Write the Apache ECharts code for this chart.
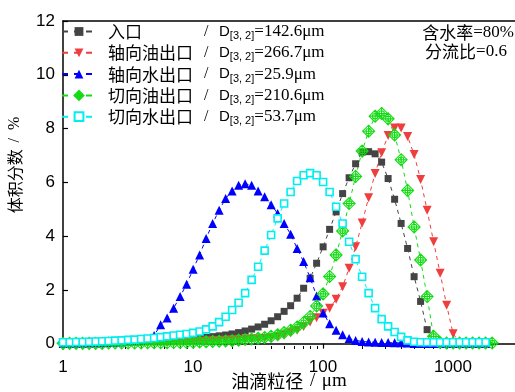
<!DOCTYPE html>
<html><head><meta charset="utf-8">
<script src="https://cdn.jsdelivr.net/npm/echarts@6/dist/echarts.min.js"></script>
<style>html,body{margin:0;padding:0;background:#fff}#c{width:515px;height:392px}</style>
</head><body><div id="c"></div>
<script>
// particle size classes (µm)
const sizes = [1.002,1.125,1.262,1.416,1.589,1.783,2.000,2.244,2.518,2.825,3.170,3.557,3.991,4.477,5.024,5.637,6.325,7.096,7.962,8.934,10.024,11.247,12.619,14.159,15.887,17.825,20.000,22.440,25.179,28.251,31.698,35.566,39.905,44.774,50.238,56.368,63.246,70.963,79.621,89.337,100.237,112.468,126.191,141.589,158.866,178.250,200.000,224.404,251.785,282.508,316.979,355.656,399.052,447.744,502.377,563.677,632.456,709.627,796.214,893.367,1002.374,1124.683,1261.915,1415.892,1588.656,1782.502,2000.000];

const names = ['入口','轴向油出口','轴向水出口','切向油出口','切向水出口'];
const d32 = ['142.6','266.7','25.9','210.6','53.7'];

// volume fraction (%)
const inlet = [0.02,0.02,0.03,0.03,0.04,0.04,0.05,0.05,0.06,0.07,0.07,0.08,0.09,0.10,0.11,0.12,0.13,0.14,0.15,0.17,
  0.19,0.21,0.23,0.26,0.29,0.32,0.36,0.41,0.47,0.54,
  0.62,0.72,0.85,1.00,1.20,1.41,1.69,2.06,2.43,2.99,
  3.60,4.25,4.90,5.58,6.17,6.69,7.12,7.14,7.06,6.75,
  6.14,5.37,4.47,3.54,2.49,1.57,0.52,0.02,0,0,
  0,0,0,0,0,0,null];
const axialOil = [0.01,0.01,0.01,0.02,0.02,0.02,0.03,0.03,0.03,0.04,0.04,0.04,0.05,0.05,0.05,0.06,0.06,0.07,0.07,0.08,
  0.08,0.09,0.10,0.11,0.12,0.13,0.14,0.15,0.16,0.17,
  0.18,0.20,0.22,0.26,0.32,0.40,0.50,0.64,0.80,0.96,
  1.13,1.32,1.65,2.12,2.80,3.60,4.49,5.43,6.33,7.10,
  7.74,8.02,8.02,7.70,7.03,6.10,4.96,3.79,2.62,1.43,
  0.37,0.02,0,0,0,0,null];
const axialWater = [0,0,0.01,0.01,0.02,0.02,0.03,0.04,0.05,0.06,0.08,0.10,0.13,0.18,0.30,
  0.70,0.95,1.32,1.75,2.21,
  2.77,3.30,3.91,4.47,4.96,5.40,5.68,5.89,5.95,5.89,
  5.68,5.46,5.17,4.84,4.47,4.07,3.54,3.05,2.45,1.77,
  1.14,0.74,0.50,0.33,0.19,0.12,0.08,0.06,0.05,0.04,
  0.04,0.03,0.03,0.02,0,0,0,0,0,0,
  0,0,0,0,0,0,null];
const tangOil = [0.01,0.01,0.01,0.01,0.01,0.01,0.01,0.02,0.02,0.02,0.02,0.02,0.02,0.03,0.03,0.03,0.03,0.04,0.04,0.04,
  0.05,0.06,0.07,0.08,0.09,0.10,0.11,0.13,0.15,0.17,
  0.20,0.23,0.27,0.33,0.41,0.50,0.62,0.78,1.01,1.40,
  1.85,2.50,3.30,4.19,5.21,6.22,7.16,7.90,8.46,8.56,
  8.36,7.76,6.84,5.70,4.34,3.11,1.75,0.27,0.04,0.02,
  0.02,0.02,0.02,0.02,0.02,0.02,0.02];
const tangWater = [0.05,0.05,0.06,0.06,0.07,0.08,0.09,0.10,0.11,0.12,
  0.14,0.15,0.17,0.19,0.21,0.24,0.27,0.30,0.33,0.36,
  0.40,0.45,0.53,0.64,0.80,1.00,1.25,1.52,1.88,2.37,
  2.86,3.46,4.04,4.66,5.21,5.64,6.05,6.26,6.34,6.26,
  6.01,5.64,5.09,4.47,3.79,3.14,2.49,1.88,1.32,0.91,
  0.64,0.43,0.25,0.12,0.07,0.05,0.05,0.05,0.05,0.05,
  0.05,0.05,0.05,0.05,0.05,0.05,null];

const xTicks = [1,10,100,1000];
const xMinorTicks = [2,3,4,5,6,7,8,9,20,30,40,50,60,70,80,90,200,300,400,500,600,700,800,900,2000];
const yTicks = [0,2,4,6,8,10,12];

const CJK = "'Noto Sans CJK SC'";
const SERIF = "'Liberation Serif'";
const SANS = "'Liberation Sans'";

function pairs(vals){ return sizes.map((s,i)=>[s, vals[i]]); }

const diamondCross = 'path://M0,-10L10,0L0,10L-10,0Z M-4.5,0A4.5,4.5,0,1,0,4.5,0A4.5,4.5,0,1,0,-4.5,0 M0,-10L0,10 M-10,0L10,0';

function ser(name, vals, color, symbol, size, opts){
  return Object.assign({
    name: name, type: 'line', data: pairs(vals),
    symbol: symbol, symbolSize: size, showAllSymbol: true,
    connectNulls: false,
    lineStyle: {color: color, width: 1, type: [4,4]},
    itemStyle: {color: color},
    emphasis: {disabled: true}
  }, opts || {});
}

const series = [
  ser(names[0], inlet, '#444444', 'rect', 7),
  ser(names[1], axialOil, '#ef3e3e', 'triangle', 9, {symbolRotate: 180}),
  ser(names[2], axialWater, '#0000ff', 'triangle', 9),
  ser(names[3], tangOil, '#14dc14', diamondCross, 12, {itemStyle: {color: 'rgba(255,255,255,0)', borderColor: '#14dc14', borderWidth: 1.1}}),
  ser(names[4], tangWater, '#00eef0', 'rect', 7, {itemStyle: {color: '#ffffff', borderColor: '#00eef0', borderWidth: 1.6}})
];

const labelFont = {color: '#000', fontSize: 17, fontFamily: SANS};

const option = {
  animation: false,
  backgroundColor: '#fff',
  grid: {left: 63, right: 0, top: 21, bottom: 43, containLabel: false, outerBoundsMode: 'none'},
  xAxis: [
    {type: 'log', logBase: 10, min: 1, max: 3000,
     name: '{c|油滴粒径}  {s|/}  {s|μm}', nameLocation: 'middle', nameGap: 23, nameMoveOverlap: false,
     nameTextStyle: {rich: {c: {fontFamily: CJK, fontSize: 18, color: '#000'}, s: {fontFamily: SERIF, fontSize: 19, color: '#000'}}},
     axisLine: {show: true, lineStyle: {color: '#000', width: 1.5}},
     axisTick: {show: true, inside: false, length: 5, lineStyle: {color: '#000', width: 1.2}, customValues: xTicks},
     axisLabel: Object.assign({margin: 10, customValues: xTicks, formatter: v => String(v)}, labelFont),
     splitLine: {show: false}, minorTick: {show: false}},
    {type: 'log', logBase: 10, min: 1, max: 3000, position: 'bottom',
     axisLine: {show: false},
     axisTick: {show: true, inside: true, length: 3, lineStyle: {color: '#000', width: 1}, customValues: xMinorTicks},
     axisLabel: {show: false}, splitLine: {show: false}},
    {type: 'log', logBase: 10, min: 1, max: 3000, position: 'top',
     axisLine: {show: true, lineStyle: {color: '#000', width: 1.5}},
     axisTick: {show: false}, axisLabel: {show: false}, splitLine: {show: false}}
  ],
  yAxis: [
    {type: 'value', min: -0.2, max: 12,
     name: '{c|体积分数}  {s|/  %}', nameLocation: 'middle', nameRotate: 90, nameGap: 40,
     nameTextStyle: {padding: [0, 0, 0, 40], rich: {c: {fontFamily: CJK, fontSize: 16, color: '#000'}, s: {fontFamily: SERIF, fontSize: 16, color: '#000'}}},
     axisLine: {show: true, lineStyle: {color: '#000', width: 1.5}},
     axisTick: {show: true, inside: true, length: 5, lineStyle: {color: '#000', width: 1.2}, customValues: yTicks},
     axisLabel: Object.assign({margin: 8, customValues: yTicks}, labelFont),
     splitLine: {show: false}}
  ],
  legend: {
    orient: 'vertical', left: 61, top: 23, padding: 0, itemGap: 2.8,
    itemWidth: 34, itemHeight: 11,
    lineStyle: {type: [6, 6]},
    data: names,
    formatter: n => {
      const i = names.indexOf(n);
      return '{n|' + n + '}{s|/}{d|D}{sub|[3, 2]}{v|=' + d32[i] + 'μm}';
    },
    textStyle: {
      padding: [0, 0, 0, 7],
      rich: {
        n: {fontFamily: CJK, fontSize: 17, color: '#000', width: 96, lineHeight: 20},
        s: {fontFamily: SERIF, fontSize: 16, color: '#000', width: 15, lineHeight: 20},
        d: {fontFamily: SANS, fontSize: 15, color: '#000', lineHeight: 20},
        sub: {fontFamily: SANS, fontSize: 11, color: '#000', lineHeight: 12, verticalAlign: 'bottom'},
        v: {fontFamily: SERIF, fontSize: 17, color: '#000', lineHeight: 20}
      }
    }
  },
  graphic: [
    {type: 'text', x: 468, y: 33, style: {text: '{a|含水率}{b|=80%}', align: 'center', verticalAlign: 'middle',
      rich: {a: {fontFamily: CJK, fontSize: 17, fill: '#000'}, b: {fontFamily: SERIF, fontSize: 17, fill: '#000'}}}},
    {type: 'text', x: 466, y: 52, style: {text: '{a|分流比}{b|=0.6}', align: 'center', verticalAlign: 'middle',
      rich: {a: {fontFamily: CJK, fontSize: 17, fill: '#000'}, b: {fontFamily: SERIF, fontSize: 17, fill: '#000'}}}}
  ],
  series: series
};

const chart = echarts.init(document.getElementById('c'), null, {renderer: 'canvas'});
chart.setOption(option);
</script>
</body></html>
